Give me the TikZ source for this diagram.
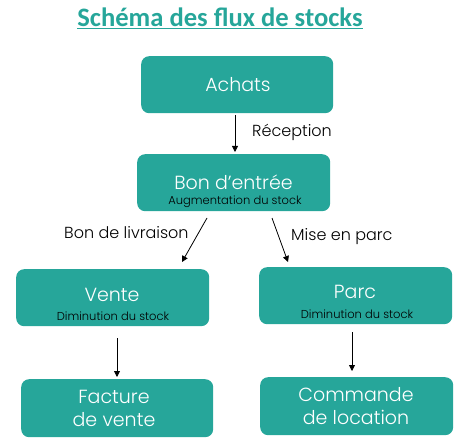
\documentclass[tikz,border=0pt]{standalone}
\usepackage{fontspec}
\setmainfont{Poppins}[UprightFont=* Light]
\newfontfamily\titlefont{Carlito}
\usetikzlibrary{arrows.meta}
\definecolor{teal1}{HTML}{26A69A}
\tikzset{
  box/.style={fill=teal1, draw=none, rounded corners=8pt, minimum width=193pt, minimum height=57pt, inner sep=0pt, anchor=north west},
  big/.style={text=white, font=\fontsize{19}{23}\selectfont, inner sep=0pt},
  small/.style={text=black, font=\fontsize{11.5}{13}\selectfont, inner sep=0pt},
  lbl/.style={text=black, font=\fontsize{16}{19}\selectfont, inner sep=0pt},
  flow/.style={draw=black, line width=0.8pt, -{Triangle[length=6pt,width=6pt]}}
}
\begin{document}
\begin{tikzpicture}[x=1pt,y=-1pt]
\useasboundingbox (0,0) rectangle (463,446);
\node[text=teal1, font=\titlefont\bfseries\fontsize{26.6}{30}\selectfont, inner sep=0pt] (title) at (220,18) {\underline{Schéma des flux de stocks}};
% boxes
\node[box, minimum width=192pt] (achats) at (141,56) {};
\node[big] (tachats) at (238,85) {Achats};
\node[box] (bon) at (137,154) {};
\node[big] (tbon) at (233.5,182) {Bon d’entrée};
\node[small] (sbon) at (235,202) {Augmentation du stock};
\node[box] (vente) at (16,269) {};
\node[big] (tvente) at (112,295) {Vente};
\node[small] (svente) at (113,316) {Diminution du stock};
\node[box] (parc) at (259,267) {};
\node[big] (tparc) at (355,292) {Parc};
\node[small] (sparc) at (357,314) {Diminution du stock};
\node[box, minimum width=192pt, minimum height=58pt] (fact) at (21,379) {};
\node[big, align=center] (tfact) at (114,408) {Facture\\de vente};
\node[box, minimum height=58pt] (cmd) at (260,377) {};
\node[big, align=center] (tcmd) at (356,406) {Commande\\de location};
% connector endpoints
\coordinate (a1) at (235,115);
\coordinate (a2) at (235,152);
\coordinate (b1) at (207,218);
\coordinate (b2) at (182,262);
\coordinate (c1) at (272,218);
\coordinate (c2) at (288,262);
\coordinate (d1) at (117,338);
\coordinate (d2) at (117,377);
\coordinate (e1) at (352,332);
\coordinate (e2) at (352,371);
\draw[flow] (a1) -- (a2);
\draw[flow] (b1) -- (b2);
\draw[flow] (c1) -- (c2);
\draw[flow] (d1) -- (d2);
\draw[flow] (e1) -- (e2);
\node[lbl, anchor=west] (lrec) at (252,132) {Réception};
\node[lbl, anchor=west] (lbl1) at (64,233) {Bon de livraison};
\node[lbl, anchor=west] (lbl2) at (291,237) {Mise en parc};
\end{tikzpicture}
\end{document}
